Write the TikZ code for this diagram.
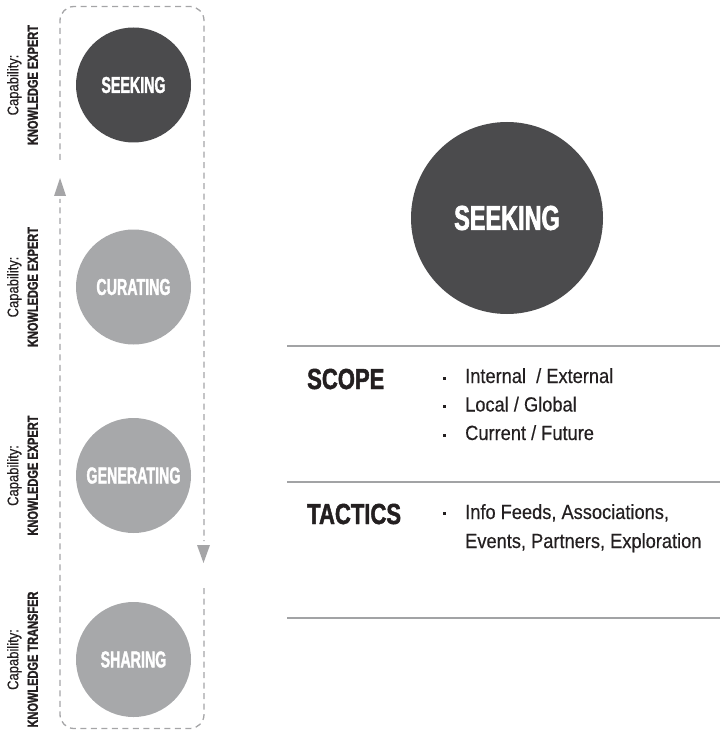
\documentclass[tikz,border=0pt]{standalone}
\usepackage{fontspec}
\setmainfont{Liberation Sans}
\newfontfamily\circfont{Liberation Sans Bold}[FakeStretch=0.62,FakeBold=1.6]
\newfontfamily\bigfont{Liberation Sans Bold}[FakeStretch=0.68,FakeBold=2]
\newfontfamily\headfont{Liberation Sans Bold}[FakeStretch=0.76,FakeBold=1.6]
\newfontfamily\bodyfont{Liberation Sans}[FakeStretch=0.89,FakeBold=0.4]
\newfontfamily\capfont{Liberation Sans}[FakeStretch=0.84,FakeBold=0.4]
\definecolor{darkc}{HTML}{4B4B4D}
\definecolor{lightc}{HTML}{A7A8AA}
\definecolor{framec}{HTML}{A5A5A7}
\definecolor{rulec}{HTML}{A2A3A5}
\definecolor{inkc}{HTML}{231F20}
\begin{document}
\begin{tikzpicture}[x=1pt,y=-1pt,
  phase/.style={circle, minimum size=115pt, inner sep=0pt, text=white,
    font=\circfont\fontsize{23}{26}\selectfont},
  bigphase/.style={circle, minimum size=192pt, inner sep=0pt, text=white, fill=darkc,
    font=\bigfont\fontsize{34.5}{40}\selectfont},
  caplabel/.style={rotate=90, align=center, inner sep=0pt, text=inkc,
    font=\capfont\fontsize{15.5}{19.5}\selectfont},
  frameline/.style={draw=framec, line width=1.3pt, dash pattern=on 6pt off 4.5pt, rounded corners=14pt},
  flowtip/.style={fill=framec},
  sectrule/.style={draw=rulec, line width=2pt},
  head/.style={anchor=base west, inner sep=0pt, text=inkc,
    font=\headfont\fontsize{29}{32}\selectfont},
  item/.style={anchor=base west, inner sep=0pt, text=inkc,
    font=\bodyfont\fontsize{20.5}{24}\selectfont},
  dot/.style={fill=inkc, minimum size=3pt, inner sep=0pt, rectangle}
]
\useasboundingbox (0,0) rectangle (720,735);

% dashed cycle frame
\coordinate (lgapT) at (60,160);
\coordinate (lgapB) at (60,199);
\coordinate (rgapT) at (204,541);
\coordinate (rgapB) at (204,588);
\draw[frameline] (lgapT) -- (60,6.5) -- (204,6.5) -- (rgapT);
\draw[frameline] (rgapB) -- (204,728.5) -- (60,728.5) -- (lgapB);
% arrow heads
\fill[flowtip] (54,196) -- (60,178) -- (66,196) -- cycle;
\fill[flowtip] (197,545) -- (210,545) -- (203.5,563) -- cycle;

% phase circles
\node[phase, fill=darkc]  (seek)  at (133.5,85)  {SEEKING};
\node[phase, fill=lightc] (cur)   at (133.5,287) {CURATING};
\node[phase, fill=lightc] (gen)   at (133.5,475.5) {GENERATING};
\node[phase, fill=lightc] (share) at (133.5,659.5) {SHARING};

% capability labels
\node[caplabel] (capA) at (22.5,85)    {Capability:\\\headfont\fontsize{14.5}{19.5}\selectfont KNOWLEDGE EXPERT};
\node[caplabel] (capB) at (22.5,287)   {Capability:\\\headfont\fontsize{14.5}{19.5}\selectfont KNOWLEDGE EXPERT};
\node[caplabel] (capC) at (22.5,475.5) {Capability:\\\headfont\fontsize{14.5}{19.5}\selectfont KNOWLEDGE EXPERT};
\node[caplabel] (capD) at (22.5,659.5) {Capability:\\\headfont\fontsize{14.5}{19.5}\selectfont KNOWLEDGE TRANSFER};

% big circle
\node[bigphase] (big) at (507,218) {SEEKING};

% rules
\draw[sectrule] (287,346) -- (720,346);
\draw[sectrule] (287,482) -- (720,482);
\draw[sectrule] (287,618) -- (720,618);

% headings
\node[head] (scope) at (307,389) {SCOPE};
\node[head] (tact)  at (307,524) {TACTICS};

% items
\node[dot] (d1) at (444.5,378) {};
\node[dot] (d2) at (444.5,406.5) {};
\node[dot] (d3) at (444.5,435) {};
\node[dot] (d4) at (444.5,513) {};
\node[item] (i1) at (465,383) {Internal\ \ / External};
\node[item] (i2) at (465,411.5) {Local / Global};
\node[item] (i3) at (465,440) {Current / Future};
\node[item] (i4) at (465,519) {Info Feeds, Associations,};
\node[item] (i5) at (465,548) {Events, Partners, Exploration};
\end{tikzpicture}
\end{document}
